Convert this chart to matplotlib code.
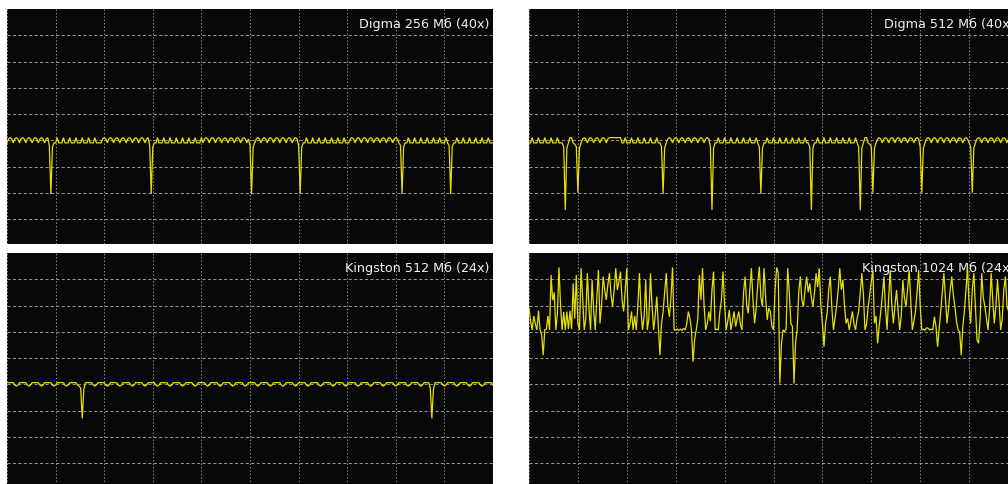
import numpy as np
import matplotlib
matplotlib.use("Agg")
import matplotlib.pyplot as plt

# ---------------- data (oscilloscope traces, in grid divisions) ----------------
titles = ["Digma 256 Мб (40x)", "Digma 512 Мб (40x)",
          "Kingston 512 Мб (24x)", "Kingston 1024 Мб (24x)"]
samples_per_div = 31

digma256 = [
    3.9, 4.05, 4.1, 4.05, 3.9, 4.05, 4.1, 4.05, 3.9, 4.05, 4.1, 4.05,
    3.9, 4.05, 4.1, 4.05, 3.9, 4.05, 4.1, 4.05, 3.9, 4.05, 4.1, 4.05,
    3.9, 4.05, 4.1,
    3.8, 1.95, 3.75,
    3.9, 3.9, 4.1, 3.9, 3.9, 3.9, 4.1, 3.9, 3.9, 3.9, 4.1, 3.9,
    3.9, 3.9, 4.1, 3.9, 3.9, 3.9, 4.1, 3.9, 3.9, 3.9, 4.1, 3.9,
    3.9, 3.9, 4.1, 3.9, 3.9, 3.9,
    3.9, 4.05, 4.1, 4.05, 3.9, 4.05, 4.1, 4.05, 3.9, 4.05, 4.1, 4.05,
    3.9, 4.05, 4.1, 4.05, 3.9, 4.05, 4.1, 4.05, 3.9, 4.05, 4.1, 4.05,
    3.9, 4.05, 4.1, 4.05, 3.9, 4.05, 4.1,
    3.8, 1.95, 3.75,
    3.9, 3.9, 4.1, 3.9, 3.9, 3.9, 4.1, 3.9, 3.9, 3.9, 4.1, 3.9,
    3.9, 3.9, 4.1, 3.9, 3.9, 3.9, 4.1, 3.9, 3.9, 3.9, 4.1, 3.9,
    3.9, 3.9, 4.1, 3.9, 3.9, 3.9, 4.1,
    3.9, 4.05, 4.1, 4.05, 3.9, 4.05, 4.1, 4.05, 3.9, 4.05, 4.1, 4.05,
    3.9, 4.05, 4.1, 4.05, 3.9, 4.05, 4.1, 4.05, 3.9, 4.05, 4.1, 4.05,
    3.9, 4.05, 4.1, 4.05, 3.9, 4.05,
    3.8, 1.95, 3.75,
    3.9, 4.05, 4.1, 4.05, 3.9, 4.05, 4.1, 4.05, 3.9, 4.05, 4.1, 4.05,
    3.9, 4.05, 4.1, 4.05, 3.9, 4.05, 4.1, 4.05, 3.9, 4.05, 4.1, 4.05,
    3.9, 4.05, 4.1, 4.05,
    3.8, 1.95, 3.75,
    3.9, 3.9, 4.1, 3.9, 3.9, 3.9, 4.1, 3.9, 3.9, 3.9, 4.1, 3.9,
    3.9, 3.9, 4.1, 3.9, 3.9, 3.9, 4.1, 3.9, 3.9, 3.9, 4.1, 3.9,
    3.9, 3.9, 4.1, 3.9, 3.9,
    3.9, 4.05, 4.1, 4.05, 3.9, 4.05, 4.1, 4.05, 3.9, 4.05, 4.1, 4.05,
    3.9, 4.05, 4.1, 4.05, 3.9, 4.05, 4.1, 4.05, 3.9, 4.05, 4.1, 4.05,
    3.9, 4.05, 4.1, 4.05, 3.9, 4.05, 4.1, 4.05, 3.9,
    3.8, 1.95, 3.75,
    3.9, 3.9, 4.1, 3.9, 3.9, 3.9, 4.1, 3.9, 3.9, 3.9, 4.1, 3.9,
    3.9, 3.9, 4.1, 3.9, 3.9, 3.9, 4.1, 3.9, 3.9, 3.9, 4.1, 3.9,
    3.9, 3.9, 4.1, 3.9,
    3.8, 1.95, 3.75,
    3.9, 3.9, 4.1, 3.9, 3.9, 3.9, 4.1, 3.9, 3.9, 3.9, 4.1, 3.9,
    3.9, 3.9, 4.1, 3.9, 3.9, 3.9, 4.1, 3.9, 3.9, 3.9, 4.1, 3.9,
    3.9, 3.9,
]

digma512 = [
    3.9, 3.9, 4.1, 3.9, 3.9, 3.9, 4.1, 3.9, 3.9, 3.9, 4.1, 3.9,
    3.9, 3.9, 4.1, 3.9, 3.9, 3.9, 4.1, 3.9, 3.9, 3.9,
    3.75, 1.34, 3.7,
    3.9, 4.1, 4.1, 3.9, 3.85,
    3.75, 2.0, 3.7,
    3.9, 4.05, 4.1, 4.05, 3.9, 4.05, 4.1, 4.05, 3.9, 4.05, 4.1, 4.05,
    3.9, 4.05, 4.1, 4.05, 3.9, 4.05,
    4.1, 4.1, 4.1, 4.1, 4.1, 4.1, 4.1, 4.1,
    3.9, 3.9, 4.1, 3.9, 3.9, 3.9, 4.1, 3.9, 3.9, 3.9, 4.1, 3.9,
    3.9, 3.9, 4.1, 3.9, 3.9, 3.9, 4.1, 3.9, 3.9, 3.9, 4.1, 3.9,
    3.9,
    3.75, 1.95, 3.7,
    3.9, 4.05, 4.1, 4.05, 3.9, 4.05, 4.1, 4.05, 3.9, 4.05, 4.1, 4.05,
    3.9, 4.05, 4.1, 4.05, 3.9, 4.05, 4.1, 4.05, 3.9, 4.05, 4.1, 4.05,
    3.9, 4.05, 4.1, 4.05,
    3.75, 1.34, 3.7,
    3.9, 3.9, 4.1, 3.9, 3.9, 3.9, 4.1, 3.9, 3.9, 3.9, 4.1, 3.9,
    3.9, 3.9, 4.1, 3.9, 3.9, 3.9, 4.1, 3.9, 3.9, 3.9, 4.1, 3.9,
    3.9, 3.9, 4.1, 3.9,
    3.75, 1.95, 3.7,
    3.9, 3.9, 4.1, 3.9, 3.9, 3.9, 4.1, 3.9, 3.9, 3.9, 4.1, 3.9,
    3.9, 3.9, 4.1, 3.9, 3.9, 3.9, 4.1, 3.9, 3.9, 3.9, 4.1, 3.9,
    3.9, 3.9, 4.1, 3.9, 3.9,
    3.75, 1.34, 3.7,
    3.9, 3.9, 4.1, 3.9, 3.9, 3.9, 4.1, 3.9, 3.9, 3.9, 4.1, 3.9,
    3.9, 3.9, 4.1, 3.9, 3.9, 3.9, 4.1, 3.9, 3.9, 3.9, 4.1, 3.9,
    3.9, 3.9, 4.1, 3.9,
    3.75, 1.34, 3.7,
    3.9, 4.1, 4.1, 3.9, 3.85,
    3.75, 2.0, 3.7,
    3.9, 4.05, 4.1, 4.05, 3.9, 4.05, 4.1, 4.05, 3.9, 4.05, 4.1, 4.05,
    3.9, 4.05, 4.1, 4.05, 3.9, 4.05, 4.1, 4.05, 3.9, 4.05, 4.1, 4.05,
    3.9, 4.05, 4.1, 4.05,
    3.75, 2.0, 3.7,
    3.9, 4.05, 4.1, 4.05, 3.9, 4.05, 4.1, 4.05, 3.9, 4.05, 4.1, 4.05,
    3.9, 4.05, 4.1, 4.05, 3.9, 4.05, 4.1, 4.05, 3.9, 4.05, 4.1, 4.05,
    3.9, 4.05, 4.1, 4.05, 3.9,
    3.75, 2.0, 3.7,
    3.9, 4.05, 4.1, 4.05, 3.9, 4.05, 4.1, 4.05, 3.9, 4.05, 4.1, 4.05,
    3.9, 4.05, 4.1, 4.05, 3.9, 4.05, 4.1, 4.05, 3.9, 4.05, 4.1, 4.05,
    3.9, 4.05, 4.1, 4.05,
]

kingston512 = [
    4.06, 4.06, 4.06, 4.06, 4.06, 3.97, 3.93, 3.97,
    4.06, 4.06, 4.06, 4.06, 4.06, 3.97, 3.93, 3.97,
    4.06, 4.06, 4.06, 4.06, 4.06, 3.97, 3.93, 3.97,
    4.06, 4.06, 4.06, 4.06, 4.06, 3.97, 3.93, 3.97,
    4.06, 4.06, 4.06, 4.06, 4.06, 3.97, 3.93, 3.97,
    4.06, 4.06, 4.06, 4.06, 4.06, 3.97, 3.93,
    3.85, 2.7, 3.8,
    4.06, 4.06, 4.06, 4.06, 4.06, 3.97, 3.93, 3.97,
    4.06, 4.06, 4.06, 4.06, 4.06, 3.97, 3.93, 3.97,
    4.06, 4.06, 4.06, 4.06, 4.06, 3.97, 3.93, 3.97,
    4.06, 4.06, 4.06, 4.06, 4.06, 3.97, 3.93, 3.97,
    4.06, 4.06, 4.06, 4.06, 4.06, 3.97, 3.93, 3.97,
    4.06, 4.06, 4.06, 4.06, 4.06, 3.97, 3.93, 3.97,
    4.06, 4.06, 4.06, 4.06, 4.06, 3.97, 3.93, 3.97,
    4.06, 4.06, 4.06, 4.06, 4.06, 3.97, 3.93, 3.97,
    4.06, 4.06, 4.06, 4.06, 4.06, 3.97, 3.93, 3.97,
    4.06, 4.06, 4.06, 4.06, 4.06, 3.97, 3.93, 3.97,
    4.06, 4.06, 4.06, 4.06, 4.06, 3.97, 3.93, 3.97,
    4.06, 4.06, 4.06, 4.06, 4.06, 3.97, 3.93, 3.97,
    4.06, 4.06, 4.06, 4.06, 4.06, 3.97, 3.93, 3.97,
    4.06, 4.06, 4.06, 4.06, 4.06, 3.97, 3.93, 3.97,
    4.06, 4.06, 4.06, 4.06, 4.06, 3.97, 3.93, 3.97,
    4.06, 4.06, 4.06, 4.06, 4.06, 3.97, 3.93, 3.97,
    4.06, 4.06, 4.06, 4.06, 4.06, 3.97, 3.93, 3.97,
    4.06, 4.06, 4.06, 4.06, 4.06, 3.97, 3.93, 3.97,
    4.06, 4.06, 4.06, 4.06, 4.06, 3.97, 3.93, 3.97,
    4.06, 4.06, 4.06, 4.06, 4.06, 3.97, 3.93, 3.97,
    4.06, 4.06, 4.06, 4.06, 4.06, 3.97, 3.93, 3.97,
    4.06, 4.06, 4.06, 4.06, 4.06, 3.97, 3.93, 3.97,
    4.06, 4.06, 4.06, 4.06, 4.06, 3.97, 3.93, 3.97,
    4.06, 4.06, 4.06, 4.06, 4.06, 3.97, 3.93, 3.97,
    4.06, 4.06, 4.06, 4.06, 4.06, 3.97, 3.93, 3.97,
    4.06, 4.06, 4.06, 4.06, 4.06, 3.97, 3.93, 3.97,
    4.06, 4.06, 4.06, 4.06, 4.06, 3.97, 3.93, 3.97,
    4.06, 4.06, 4.06, 4.06,
    3.85, 2.7, 3.8,
    4.06, 4.06, 4.06, 4.06, 4.06, 3.97, 3.93, 3.97,
    4.06, 4.06, 4.06, 4.06, 4.06, 3.97, 3.93, 3.97,
    4.06, 4.06, 4.06, 4.06, 4.06, 3.97, 3.93, 3.97,
    4.06, 4.06, 4.06, 4.06, 4.06, 3.97, 3.93, 3.97,
    4.06, 4.06, 4.06, 4.06, 4.06, 3.97,
]

kingston1024 = [
    6.9, 6.4, 6.07, 6.6, 6.3, 6.07, 6.8, 6.07, 5.9, 5.11,
    6.07, 6.1, 6.6, 6.07, 8.16, 7.2, 7.5, 6.07, 6.7, 8.45,
    7.0, 6.07, 6.75, 6.07, 6.77, 6.1, 6.8, 6.1, 7.84, 6.5, 8.16,
    6.3, 6.07, 8.42, 7.3, 6.07, 6.5, 8.23, 6.9, 6.07, 7.97,
    6.8, 6.07, 7.3, 8.35, 6.32, 7.0, 8.1, 7.6, 7.21, 7.8,
    8.23, 7.4, 6.96, 7.6, 8.42, 7.59, 7.9, 8.29, 7.2, 6.77, 7.6,
    8.42, 6.07, 6.3, 6.77, 6.07, 6.6, 6.07, 7.0, 8.23, 6.8,
    6.07, 6.6, 7.97, 6.07, 6.5, 8.23, 7.0, 6.07, 6.6, 7.34,
    6.2, 5.11, 6.3, 6.77, 7.5, 8.23, 7.0, 6.57, 7.3, 8.45, 6.07,
    6.07, 6.1, 6.05, 6.1, 6.05, 6.13, 6.07, 6.3, 6.77, 6.5,
    6.07, 4.86, 5.7, 6.07, 6.5, 8.16, 7.21, 8.42, 7.0, 6.07,
    6.3, 6.77, 6.4, 7.6, 8.29, 6.07, 6.1, 6.07, 6.77, 7.2, 8.29,
    7.0, 6.07, 6.4, 6.83, 6.07, 6.4, 6.77, 6.2, 6.5, 6.77,
    6.3, 6.07, 7.5, 8.1, 7.0, 6.7, 7.6, 8.42, 7.2, 6.32,
    6.9, 7.8, 8.48, 7.3, 6.96, 8.42, 7.3, 6.45, 6.9, 6.77, 6.2,
    6.07, 7.6, 8.45, 8.23, 4.03, 5.5, 6.07, 6.0, 6.1, 8.42,
    7.5, 6.32, 6.2, 4.03, 5.6, 6.07, 7.5, 8.1, 7.2, 6.96,
    7.6, 8.1, 7.5, 7.84, 7.3, 6.96, 7.5, 8.23, 7.7, 8.42, 7.0,
    6.32, 5.43, 6.3, 6.7, 7.6, 8.1, 6.9, 6.07, 6.5, 6.96,
    7.6, 8.42, 7.6, 7.97, 7.0, 6.32, 6.5, 6.07, 6.4, 6.77,
    6.3, 6.07, 6.5, 6.77, 7.5, 8.23, 7.4, 6.07, 6.3, 6.96, 7.4,
    7.9, 8.35, 6.32, 6.6, 5.56, 6.2, 6.77, 7.4, 8.1, 6.9,
    6.07, 7.3, 8.35, 7.0, 6.32, 7.0, 7.59, 6.8, 6.07, 6.6,
    7.97, 7.3, 6.96, 7.6, 8.35, 7.2, 6.07, 6.4, 6.77, 7.5, 8.35,
    7.0, 6.07, 6.1, 6.05, 6.15, 6.13, 6.07, 6.1, 6.07, 6.57,
    6.2, 5.43, 6.1, 6.77, 7.5, 8.23, 7.3, 6.32, 6.9, 7.6,
    8.1, 7.4, 6.96, 6.4, 6.07, 6.0, 5.11, 6.2, 6.77, 7.6, 8.42,
    7.0, 6.32, 7.6, 8.23, 7.0, 5.69, 5.56, 6.5, 8.23, 7.3,
    6.96, 6.5, 6.07, 6.9, 8.23, 7.2, 6.32, 7.0, 7.97, 7.1,
    6.07, 6.5, 7.6, 8.1, 7.0, 6.77, 6.3, 7.2, 8.0, 6.9, 6.2, 7.3,
]

traces = [digma256, digma512, kingston512, kingston1024]

# ---------------- layout (figure pixels) ----------------
W, H = 1008, 484
DIV_PX = 26.25
# left, top, width, height in pixels
rects = [(7, 9, 486, 235), (529, 9, 489, 235),
         (7, 253, 486, 236.25), (529, 253, 489, 236.25)]

BG = "#080808"
GRID = "#929292"
TRACE = "#e6e000"

fig = plt.figure(figsize=(W / 100, H / 100), dpi=100)
fig.patch.set_facecolor("white")

for (l, t, w, h), title, y in zip(rects, titles, traces):
    ax = fig.add_axes([l / W, 1 - (t + h) / H, w / W, h / H])
    ax.set_facecolor(BG)
    ax.set_xlim(0, 10)
    ax.set_ylim(9 - h / DIV_PX, 9)
    ax.set_xticks(range(0, 11))
    ax.set_yticks(range(1, 9))
    ax.tick_params(length=0, labelbottom=False, labelleft=False)
    for s in ax.spines.values():
        s.set_visible(False)
    ax.set_axisbelow(True)
    ax.xaxis.grid(True, color=GRID, linewidth=0.75, linestyle=(0, (1.3, 2.0)))
    ax.yaxis.grid(True, color=GRID, linewidth=0.75, linestyle=(0, (3.0, 2.2)))

    yv = np.asarray(y, dtype=float)
    x = np.arange(len(yv)) / samples_per_div
    ax.plot(x, yv, color=TRACE, linewidth=0.9, zorder=3,
            solid_joinstyle="miter", antialiased=True)

    ax.text(1 - 4 / w, 1 - 19 / h, title, transform=ax.transAxes,
            ha="right", va="baseline", color="#f2f2f2", fontsize=9.2,
            family=["DejaVu Sans"], zorder=2)

fig.savefig("out.png", dpi=100, facecolor="white")
